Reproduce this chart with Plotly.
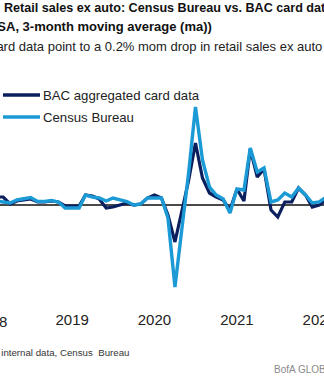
import plotly.graph_objects as go

months = [
    "2018-01-01", "2018-02-01", "2018-03-01", "2018-04-01", "2018-05-01", "2018-06-01",
    "2018-07-01", "2018-08-01", "2018-09-01", "2018-10-01", "2018-11-01", "2018-12-01",
    "2019-01-01", "2019-02-01", "2019-03-01", "2019-04-01", "2019-05-01", "2019-06-01",
    "2019-07-01", "2019-08-01", "2019-09-01", "2019-10-01", "2019-11-01", "2019-12-01",
    "2020-01-01", "2020-02-01", "2020-03-01", "2020-04-01", "2020-05-01", "2020-06-01",
    "2020-07-01", "2020-08-01", "2020-09-01", "2020-10-01", "2020-11-01", "2020-12-01",
    "2021-01-01", "2021-02-01", "2021-03-01", "2021-04-01", "2021-05-01", "2021-06-01",
    "2021-07-01", "2021-08-01", "2021-09-01", "2021-10-01", "2021-11-01", "2021-12-01",
    "2022-01-01", "2022-02-01",
]

bac_card = [
    0.6, 0.8, 0.8, 0.1, 0.4, 0.5, 0.6, 0.3, 0.3, 0.4, 0.3, -0.1,
    -0.1, -0.1, 1.0, 0.9, 0.6, -0.3, -0.2, 0.0, 0.2, 0.0, 0.1, 0.7,
    1.0, 0.7, -1.0, -3.7, -0.6, 2.5, 6.2, 2.7, 1.2, 0.8, 0.5, -0.5,
    1.6, 0.4, 5.6, 2.8, 3.6, -0.5, -1.2, 0.3, 0.3, 1.7, 1.0, -0.2,
    0.0, 0.5,
]

census = [
    0.2, 0.4, 0.3, 0.2, 0.5, 0.6, 0.75, 0.35, 0.35, 0.45, 0.3, -0.3,
    -0.3, -0.3, 1.0, 0.8, 0.7, 0.4, 0.7, 0.5, 0.35, 0.0, 0.1, 0.7,
    0.7, 0.7, -1.3, -8.2, -2.5, 3.3, 9.8, 4.5, 1.8, 1.0, 0.6, -0.8,
    1.6, 1.5, 5.7, 3.3, 3.7, 0.3, 0.5, 1.2, 0.8, 1.7, 1.0, 0.2,
    0.3, 0.8,
]

tick_vals = ["2019-01-01", "2020-01-01", "2021-01-01", "2022-01-01"]
tick_text = ["2019", "2020", "2021", "2022"]

series_names = ["BAC aggregated card data", "Census Bureau"]
DARK = "#0b1f5e"
LIGHT = "#1b9ad6"
FONT = "Liberation Sans, Arial, sans-serif"

W, H = 324, 377
T, B = 80, 77
PH = H - T - B


def py(p):
    return (H - B - p) / PH


def px(p):
    return p / W


fig = go.Figure()
fig.add_trace(go.Scatter(x=months, y=bac_card, mode="lines", name=series_names[0],
                         line=dict(color=DARK, width=3.2), showlegend=False))
fig.add_trace(go.Scatter(x=months, y=census, mode="lines", name=series_names[1],
                         line=dict(color=LIGHT, width=3.4), showlegend=False))

fig.update_layout(
    width=W, height=H,
    margin=dict(l=0, r=0, t=T, b=B, pad=0, autoexpand=False),
    paper_bgcolor="white", plot_bgcolor="white",
    font=dict(family=FONT, color="#222"),
    xaxis=dict(type="date", range=["2018-02-15", "2022-01-22"],
               tickvals=tick_vals, ticktext=tick_text, showgrid=False,
               zeroline=False, showline=False, ticks="", automargin=False,
               tickfont=dict(size=15, color="#222"),
               ticklabeloverflow="allow", ticklabelstandoff=9),
    yaxis=dict(range=[-9.5, 12.5], showgrid=False, showticklabels=False,
               zeroline=True, zerolinecolor="#4a4a4a", zerolinewidth=1.5,
               ticks="", automargin=False),
)

# legend (manual)
for i, (name, col) in enumerate(zip(series_names, [DARK, LIGHT])):
    yy = [95, 117][i]
    fig.add_shape(type="line", xref="paper", yref="paper",
                  x0=px(3), x1=px(40), y0=py(yy), y1=py(yy),
                  line=dict(color=col, width=3.5))
    fig.add_annotation(text=name, xref="paper", yref="paper",
                       x=px(41), y=py(yy), xanchor="left", yanchor="middle",
                       showarrow=False, font=dict(size=13.2, color="#222"))

# title lines
fig.add_annotation(text="<b>Retail sales ex auto: Census Bureau vs. BAC card data</b>",
                   xref="paper", yref="paper", x=px(2), y=py(8), xanchor="left",
                   yanchor="middle", showarrow=False,
                   font=dict(size=12.6, color="#111"))
fig.add_annotation(text="<b>(SA, 3-month moving average (ma))</b>",
                   xref="paper", yref="paper", x=px(-9), y=py(27), xanchor="left",
                   yanchor="middle", showarrow=False,
                   font=dict(size=13, color="#111"))
fig.add_annotation(text="Card data point to a 0.2% mom drop in retail sales ex auto",
                   xref="paper", yref="paper", x=px(-15), y=py(46), xanchor="left",
                   yanchor="middle", showarrow=False,
                   font=dict(size=13, color="#222"))

# partially visible 2018 label
fig.add_annotation(text="2018", xref="paper", yref="paper", x=px(-10), y=py(321),
                   xanchor="center", yanchor="middle", showarrow=False,
                   font=dict(size=15, color="#222"))

# source / footer
fig.add_annotation(text="Source: BofA internal data, Census  Bureau",
                   xref="paper", yref="paper", x=px(131), y=py(352), xanchor="right",
                   yanchor="middle", showarrow=False,
                   font=dict(size=9.7, color="#333"))
fig.add_annotation(text="BofA GLOBAL RESEARCH",
                   xref="paper", yref="paper", x=px(272), y=py(369), xanchor="left",
                   yanchor="middle", showarrow=False,
                   font=dict(size=10, color="#8a8a8a"))

fig.write_html("out.html")
